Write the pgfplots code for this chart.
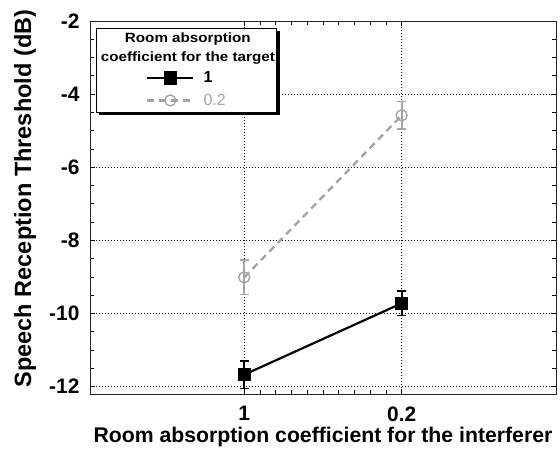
\documentclass[border=0pt]{standalone}
\usepackage{pgfplots}
\pgfplotsset{compat=1.18}
\usepackage{graphicx}
\usepackage{fontspec}
\setmainfont{Liberation Sans}
\newcommand\sx[1]{\scalebox{1.13}[1]{#1}}
\definecolor{lg}{RGB}{165,165,165}
\begin{document}
\begin{tikzpicture}
\begin{axis}[name=ax,
 scale only axis, width=466bp, height=373bp,
 xmin=-0.98, xmax=1.98, ymin=-12.2, ymax=-2,
 xtick={0,1}, xticklabels={1,0.2},
 ytick={-12,-10,-8,-6,-4,-2}, yticklabels={-12,-10,-8,-6,-4,-2},
 minor x tick num=9, minor y tick num=3,
 tick align=inside, major tick length=5bp, minor tick length=4bp,
 grid=major, major grid style={black, line width=0.7pt, dash pattern=on 1bp off 2bp},
 tick style={black, line width=0.8pt},
 axis line style={line width=0.8pt, black!85},
 ticklabel style={font=\fontsize{21}{21}\selectfont\bfseries},
 xticklabel style={yshift=-9bp},
 yticklabel shift=7bp,
 xlabel={Room absorption coefficient for the interferer},
 ylabel={Speech Reception Threshold (dB)},
 every axis x label/.style={at={(rel axis cs:0.5,0)}, anchor=base, yshift=-48bp,
   font=\fontsize{21.3}{24}\selectfont\bfseries},
 every axis y label/.style={at={(rel axis cs:0,0.524)}, xshift=-65bp, rotate=90, anchor=center,
   font=\fontsize{23.6}{26}\selectfont\bfseries},
 legend style={at={(rel axis cs:0.12,0.87)}, anchor=north west, draw=none, fill=none,
   font=\fontsize{16}{17}\selectfont\bfseries, row sep=6bp, inner sep=0pt},
 legend cell align=left,
 legend image code/.code={\draw[mark repeat=2,mark phase=2,#1] plot coordinates {(0bp,0bp)(23bp,0bp)(46bp,0bp)};},
]
\fill[black] ([xshift=3bp,yshift=-3bp]rel axis cs:0.013,0.981) rectangle ([xshift=3bp,yshift=-3bp]rel axis cs:0.401,0.756);
\filldraw[fill=white, draw=black, line width=0.8pt] (rel axis cs:0.013,0.981) rectangle (rel axis cs:0.401,0.756);
\node[align=center, font=\fontsize{13.5}{19}\selectfont\bfseries, anchor=north] at (rel axis cs:0.21,0.978) {\sx{Room absorption}\\\sx{coefficient for the target}};

\addplot[black, line width=2.2pt, mark=square*, mark size=5.5bp,
  error bars/.cd, y dir=both, y explicit,
  error bar style={line width=1.6pt, black},
  error mark options={rotate=90, mark size=4.5bp, line width=1.6pt, black}]
  coordinates {(0,-11.67) +- (0,0.38) (1,-9.72) +- (0,0.33)};
\addlegendentry{\hspace*{7bp}1}
\addplot[lg, line width=2.4pt, dash pattern=on 7bp off 5bp, mark=o, mark size=5.5bp,
  mark options={solid, fill=white, line width=1.4pt},
  error bars/.cd, y dir=both, y explicit,
  error bar style={line width=1.6pt, lg, solid},
  error mark options={rotate=90, mark size=4.5bp, line width=1.6pt, lg}]
  coordinates {(0,-9.01) +- (0,0.47) (1,-4.58) +- (0,0.38)};
\addlegendentry{\hspace*{7bp}\textcolor{lg}{\mdseries 0.2}}
\end{axis}
\pgfresetboundingbox
\useasboundingbox ([xshift=-90bp,yshift=-55bp]ax.south west) rectangle ([xshift=4bp,yshift=21bp]ax.north east);
\end{tikzpicture}
\end{document}
